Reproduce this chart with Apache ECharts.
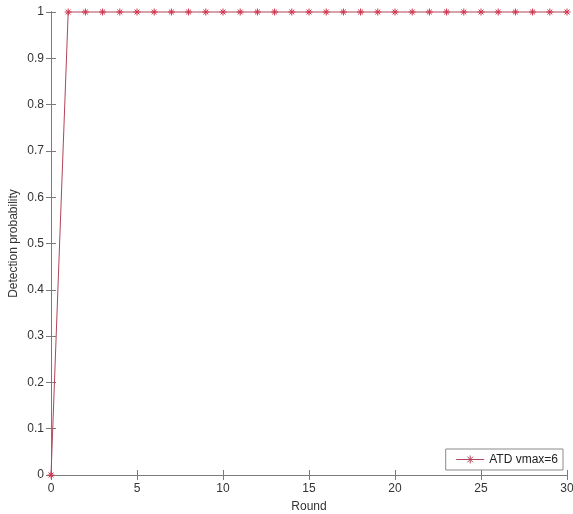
<!DOCTYPE html>
<html><head><meta charset="utf-8">
<script src="https://cdn.jsdelivr.net/npm/echarts@6/dist/echarts.min.js"></script>
<style>html,body{margin:0;padding:0;background:#fff}#c{width:573px;height:514px}</style>
</head><body><div id="c"></div>
<script>
const rounds = [0,1,2,3,4,5,6,7,8,9,10,11,12,13,14,15,16,17,18,19,20,21,22,23,24,25,26,27,28,29,30];
const probability = [0,1,1,1,1,1,1,1,1,1,1,1,1,1,1,1,1,1,1,1,1,1,1,1,1,1,1,1,1,1,1];
const seriesName = 'ATD vmax=6';

const chart = echarts.init(document.getElementById('c'));
const axisCol = '#7a7a7a';
const font = 'Arial, "Liberation Sans", sans-serif';
const star = 'path://M0,-5L0,5M-5,0L5,0M-3.5,-3.5L3.5,3.5M-3.5,3.5L3.5,-3.5';
const legendIcon = 'path://M0,5L28,5M14,1L14,9M10,5L18,5M11.2,2.2L16.8,7.8M11.2,7.8L16.8,2.2';
const baseX = {type:'value', min:0, max:30, interval:5,
  axisLine:{show:true,lineStyle:{color:axisCol,width:1}},
  axisTick:{show:true,inside:true,length:5,lineStyle:{color:axisCol}},
  splitLine:{show:false}};
const baseY = {type:'value', min:0, max:1, interval:0.1,
  axisLine:{show:true,lineStyle:{color:axisCol,width:1}},
  axisTick:{show:true,inside:true,length:5,lineStyle:{color:axisCol}},
  splitLine:{show:false}};
chart.setOption({
  animation:false,
  backgroundColor:'#fff',
  grid:{left:51,right:6,top:12,bottom:39,containLabel:false,outerBoundsMode:'none'},
  xAxis:[
    Object.assign({}, baseX, {position:'bottom', name:'Round', nameLocation:'middle', nameGap:26,
      nameMoveOverlap:false,
      nameTextStyle:{color:'#333',fontSize:12,fontFamily:font},
      axisLabel:{color:'#333',fontSize:12,fontFamily:font,margin:8}}),
    Object.assign({}, baseX, {position:'top', axisLabel:{show:false}})
  ],
  yAxis:[
    Object.assign({}, baseY, {position:'left', name:'Detection probability', nameLocation:'middle', nameGap:31,
      nameMoveOverlap:false,
      nameTextStyle:{color:'#333',fontSize:12,fontFamily:font},
      axisLabel:{color:'#333',fontSize:12,fontFamily:font,margin:7,
        formatter:v=>String(Math.round(v*10)/10)}}),
    Object.assign({}, baseY, {position:'right', axisLabel:{show:false}})
  ],
  legend:{right:10,bottom:44,orient:'horizontal',
    backgroundColor:'#fff',borderColor:'#8a8a8a',borderWidth:1,borderRadius:0,
    padding:[4,5,4,8],itemWidth:28,itemHeight:10,itemGap:5,
    textStyle:{color:'#222',fontSize:12,fontFamily:font},
    itemStyle:{color:'none',borderColor:'#b0465a',borderWidth:1},
    data:[{name:seriesName, icon:legendIcon}]},
  series:[{
    name:seriesName, type:'line',
    data: rounds.map((r,i)=>[r, probability[i]]),
    lineStyle:{color:'#b0465a',width:1},
    symbol:star, symbolSize:7, showSymbol:true,
    itemStyle:{color:'none',borderColor:'#d0304a',borderWidth:1},
    clip:false
  }]
});
</script></body></html>
